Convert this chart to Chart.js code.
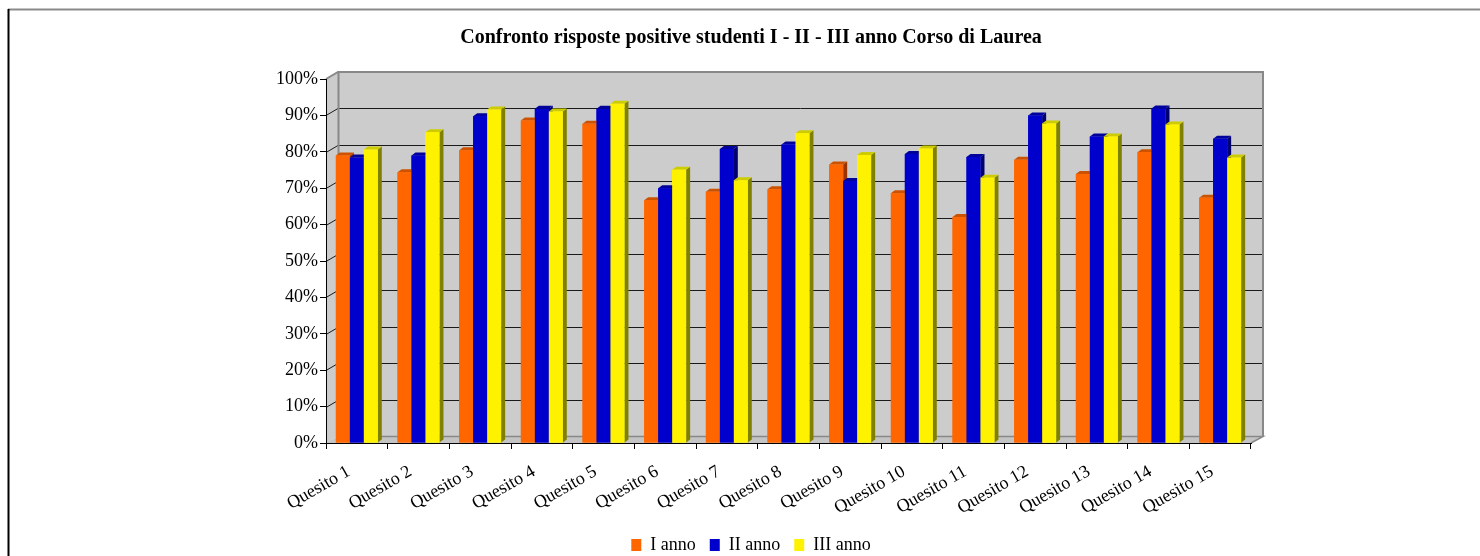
<!DOCTYPE html>
<html>
<head>
<meta charset="utf-8">
<script src="https://cdn.jsdelivr.net/npm/chart.js@4.4.0/dist/chart.umd.min.js"></script>
<style>
  html, body { margin: 0; padding: 0; background: #fff; }
</style>
</head>
<body>
<canvas id="chart" width="1480" height="556"></canvas>
<script>
const categories = [
  "Quesito 1", "Quesito 2", "Quesito 3", "Quesito 4", "Quesito 5",
  "Quesito 6", "Quesito 7", "Quesito 8", "Quesito 9", "Quesito 10",
  "Quesito 11", "Quesito 12", "Quesito 13", "Quesito 14", "Quesito 15"
];
const seriesNames = ["I anno", "II anno", "III anno"];
const primoAnno = [79.0, 74.4, 80.4, 88.6, 87.7, 66.7, 69.0, 69.7, 76.5, 68.6, 62.1, 77.8, 73.9, 79.9, 67.4];
const secondoAnno = [78.4, 79.0, 89.8, 91.8, 91.8, 70.0, 80.8, 82.0, 72.0, 79.4, 78.6, 90.0, 84.2, 91.9, 83.6];
const terzoAnno = [80.6, 85.4, 91.6, 91.1, 93.2, 75.1, 72.2, 85.1, 79.1, 80.9, 72.9, 87.8, 84.2, 87.5, 78.4];
const yTicks = [0, 10, 20, 30, 40, 50, 60, 70, 80, 90, 100];

// front / top / side colour of each series
const faces = [
  { front: "#ff6600", top: "#cc5200", side: "#993300" },
  { front: "#0000cc", top: "#00009c", side: "#000070" },
  { front: "#fff200", top: "#cccc00", side: "#808000" }
];

const WALL_DX = 12, WALL_DY = 7;
const BAR_DX = 4, BAR_DY = 3;
const SERIF = "'Liberation Serif', 'DejaVu Serif', serif";

function poly(ctx, pts, fill) {
  ctx.beginPath();
  pts.forEach(([px, py], i) => (i ? ctx.lineTo(px, py) : ctx.moveTo(px, py)));
  ctx.closePath();
  ctx.fillStyle = fill;
  ctx.fill();
}

function line(ctx, pts, color, w) {
  ctx.beginPath();
  pts.forEach(([px, py], i) => (i ? ctx.lineTo(px, py) : ctx.moveTo(px, py)));
  ctx.strokeStyle = color;
  ctx.lineWidth = w || 1;
  ctx.stroke();
}

// ── walls, floor and back gridlines ────────────────────────────────
const wallsPlugin = {
  id: "walls",
  beforeDraw(chart) {
    const { ctx, chartArea: a, scales: { y } } = chart;
    ctx.save();

    // page frame
    line(ctx, [[8, 9.5], [chart.width, 9.5]], "#8a8a8a", 2);
    line(ctx, [[8.5, 9], [8.5, chart.height]], "#000", 2);

    const L = a.left, R = a.right, T = a.top, B = a.bottom;
    poly(ctx, [[L + WALL_DX, T - WALL_DY], [R + WALL_DX, T - WALL_DY], [R + WALL_DX, B - WALL_DY], [L + WALL_DX, B - WALL_DY]], "#cccccc");
    poly(ctx, [[L, T], [L + WALL_DX, T - WALL_DY], [L + WALL_DX, B - WALL_DY], [L, B]], "#cccccc");
    poly(ctx, [[L, B], [L + WALL_DX, B - WALL_DY], [R + WALL_DX, B - WALL_DY], [R, B]], "#c4c4c4");

    yTicks.forEach((v) => {
      if (v === 0 || v === 100) return;
      const py = Math.round(y.getPixelForValue(v)) + 0.5;
      line(ctx, [[L, py], [L + WALL_DX, py - WALL_DY], [R + WALL_DX, py - WALL_DY]], "#1a1a1a", 1);
    });

    // wall edges
    line(ctx, [[L, T], [L + WALL_DX, T - WALL_DY], [R + WALL_DX, T - WALL_DY], [R + WALL_DX, B - WALL_DY]], "#888", 2);
    line(ctx, [[L + WALL_DX + 0.5, T - WALL_DY], [L + WALL_DX + 0.5, B - WALL_DY]], "#888", 2);
    line(ctx, [[L + WALL_DX, B - WALL_DY + 0.5], [R + WALL_DX, B - WALL_DY + 0.5], [R, B]], "#888", 1.5);
    ctx.restore();
  }
};

// ── bar tops and sides ─────────────────────────────────────────────
const barsPlugin = {
  id: "bars3d",
  afterDatasetsDraw(chart) {
    const ctx = chart.ctx;
    const metas = chart.data.datasets.map((d, i) => chart.getDatasetMeta(i));
    ctx.save();
    categories.forEach((c, i) => {
      metas.forEach((meta, di) => {
        const { x, y, base, width } = meta.data[i].getProps(["x", "y", "base", "width"], true);
        const l = x - width / 2, r = x + width / 2;
        const f = faces[di];
        poly(ctx, [[r, y], [r + BAR_DX, y - BAR_DY], [r + BAR_DX, base - BAR_DY], [r, base]], f.side);
        poly(ctx, [[l, y], [l + BAR_DX, y - BAR_DY], [r + BAR_DX, y - BAR_DY], [r, y]], f.top);
        ctx.fillStyle = f.front;
        ctx.fillRect(l, y, width, base - y);
      });
    });
    ctx.restore();
  }
};

Chart.defaults.color = "#000";
Chart.defaults.font.family = SERIF;

new Chart(document.getElementById("chart"), {
  type: "bar",
  data: {
    labels: categories,
    datasets: [primoAnno, secondoAnno, terzoAnno].map((values, i) => ({
      label: seriesNames[i],
      data: values,
      backgroundColor: faces[i].front,
      borderWidth: 0,
      categoryPercentage: 0.68,
      barPercentage: 1
    }))
  },
  options: {
    responsive: false,
    animation: false,
    layout: { padding: { left: 251, right: 229, top: 0, bottom: -8 } },
    plugins: {
      title: {
        display: true,
        text: "Confronto risposte positive studenti I - II - III anno Corso di Laurea",
        font: { family: SERIF, size: 20, weight: "bold" },
        padding: { top: 26, bottom: 29 }
      },
      legend: {
        position: "bottom",
        labels: {
          font: { family: SERIF, size: 18 },
          boxWidth: 10,
          boxHeight: 12,
          padding: 14
        }
      },
      tooltip: { enabled: false }
    },
    scales: {
      x: {
        afterFit: (scale) => { scale.height = 79; },
        grid: { display: true, drawOnChartArea: false, drawTicks: true, tickLength: 6, color: "#000", offset: true },
        border: { display: true, color: "#000", width: 1 },
        ticks: {
          font: { family: SERIF, size: 18 },
          minRotation: 30,
          maxRotation: 30,
          autoSkip: false,
          padding: 12,
          labelOffset: -8
        }
      },
      y: {
        min: 0,
        max: 100,
        afterFit: (scale) => { scale.width = 75; },
        afterBuildTicks: (scale) => { scale.ticks = yTicks.map((v) => ({ value: v })); },
        grid: { display: true, drawOnChartArea: false, drawTicks: true, tickLength: 6, color: "#000" },
        border: { display: true, color: "#000", width: 1 },
        ticks: {
          font: { family: SERIF, size: 18 },
          padding: 2,
          callback: (v) => v + "%"
        }
      }
    }
  },
  plugins: [wallsPlugin, barsPlugin]
});
</script>
</body>
</html>
